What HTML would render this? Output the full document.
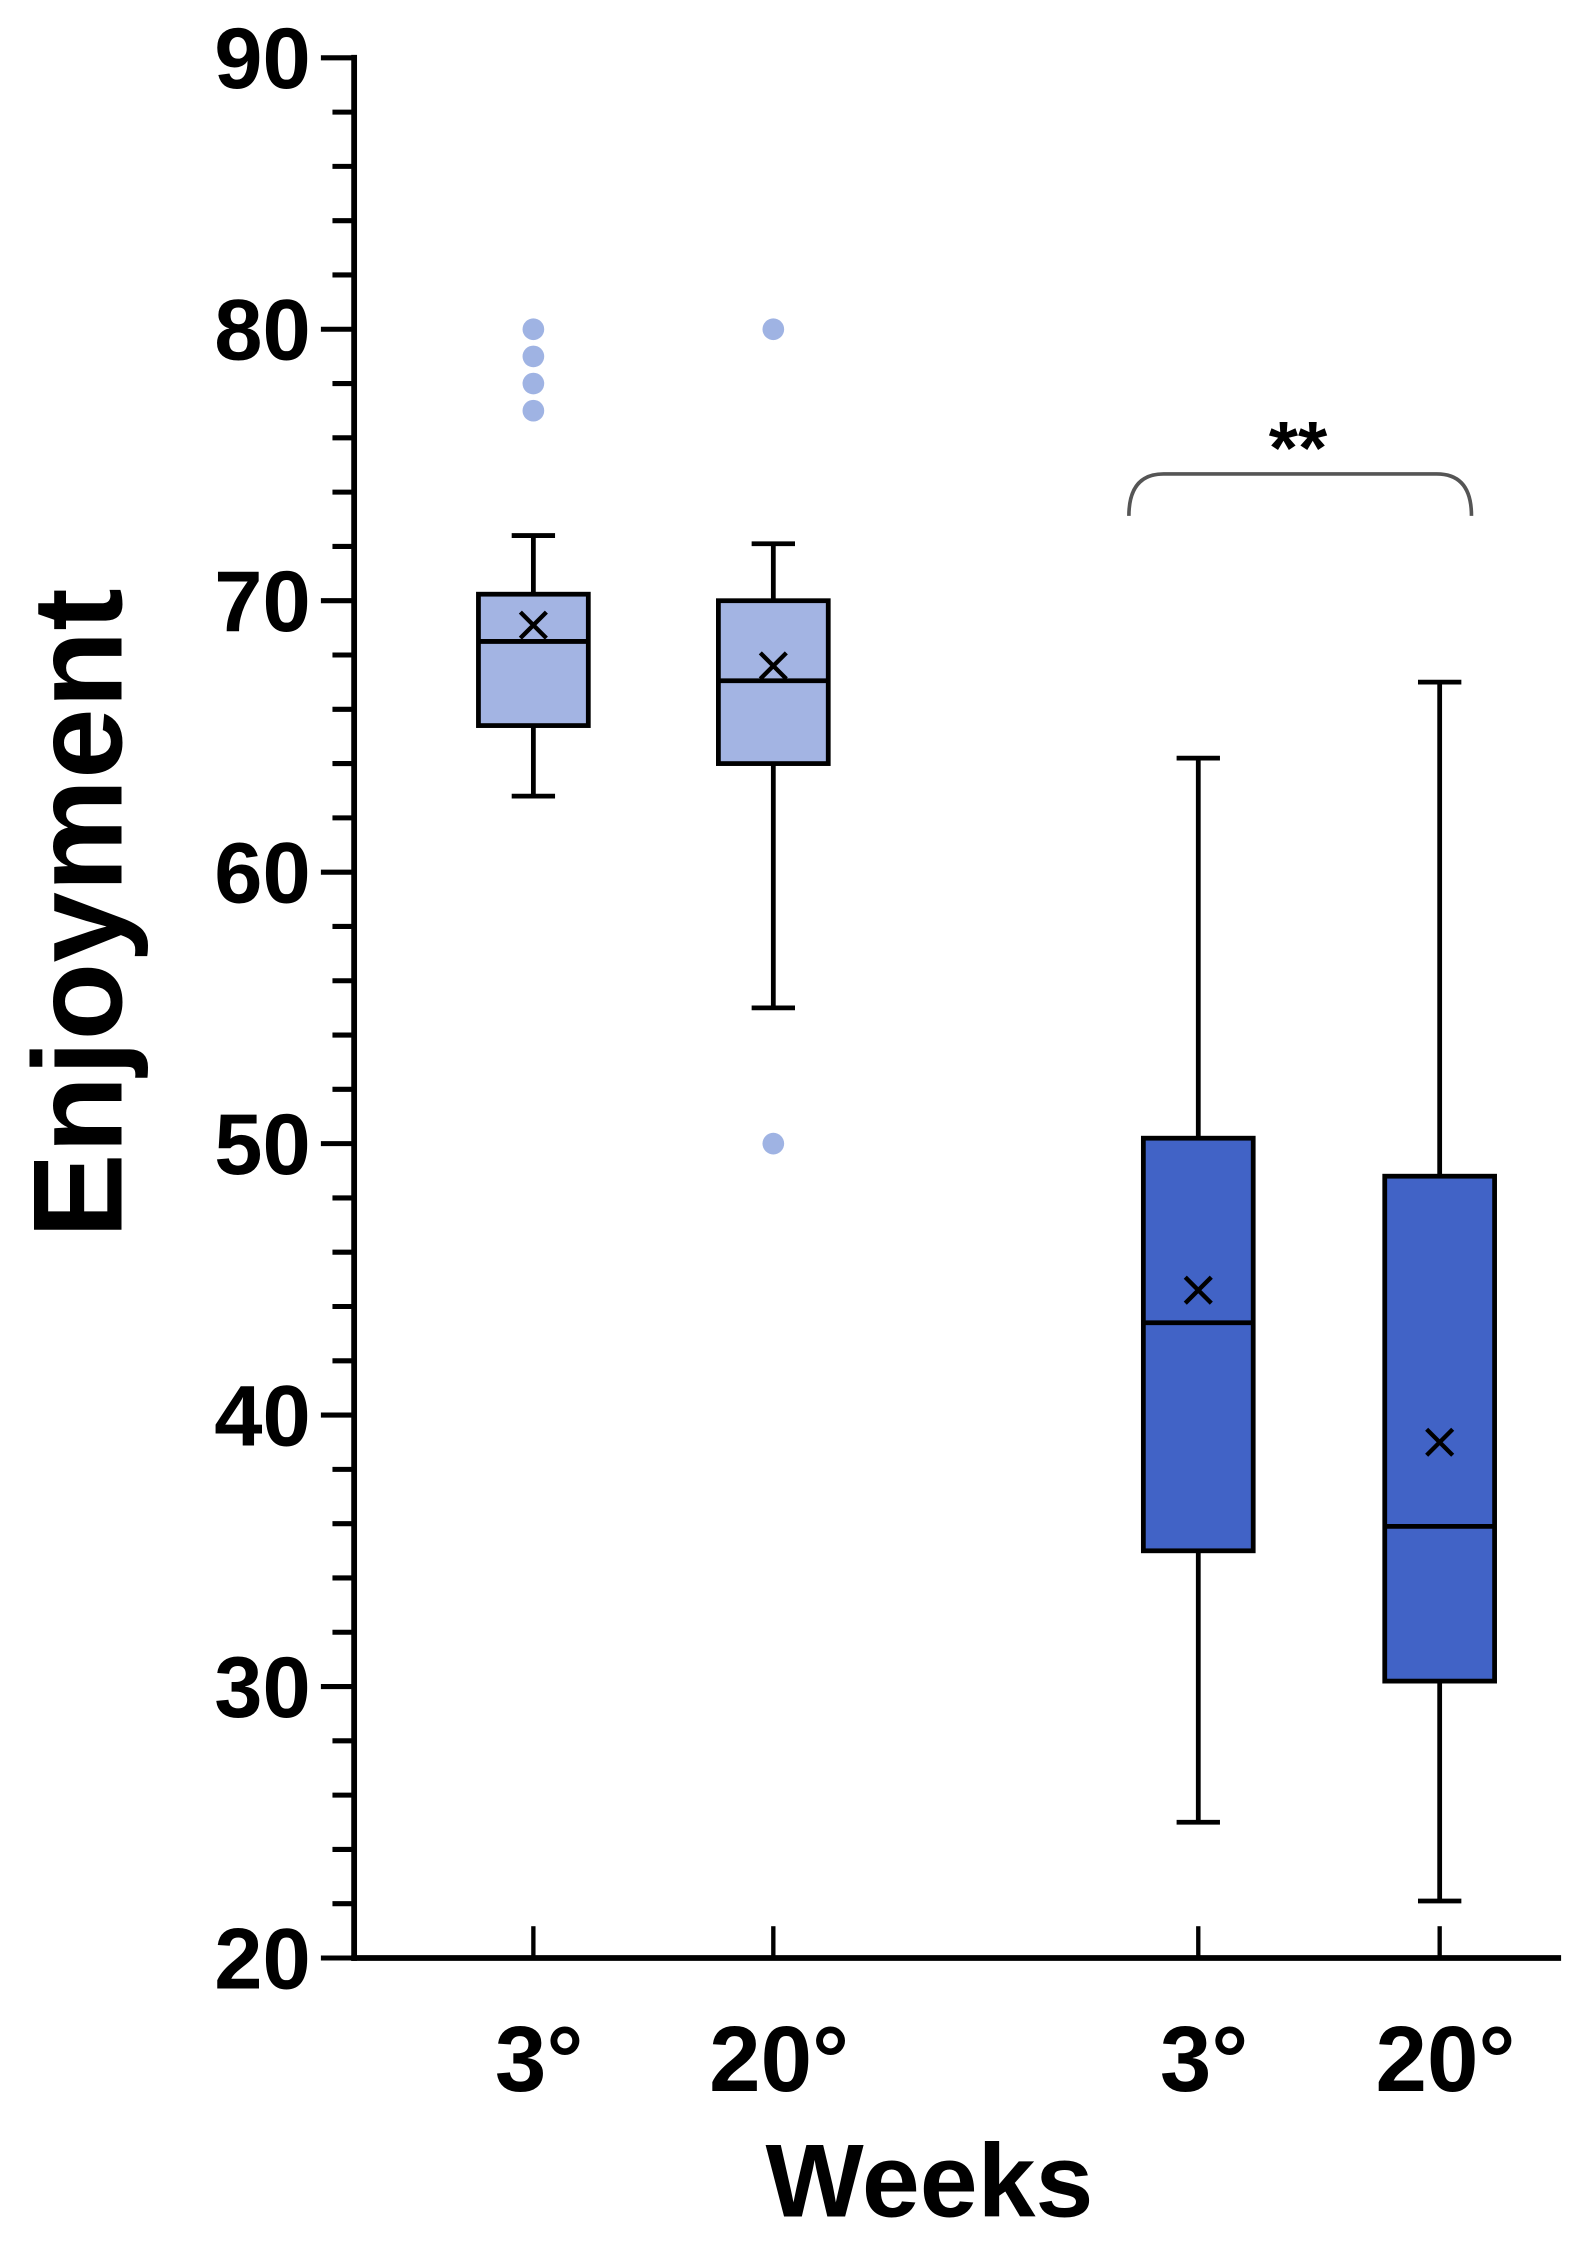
<!DOCTYPE html>
<html><head><meta charset="utf-8"><style>html,body{margin:0;padding:0;background:#fff}svg{display:block}text{font-family:"Liberation Sans",Arial,sans-serif;font-weight:bold;fill:#000}</style></head>
<body>
<svg id="chart" width="1590" height="2260" viewBox="0 0 1100 1564" preserveAspectRatio="none" xmlns="http://www.w3.org/2000/svg">
<g id="axes"></g><g id="boxes"></g>
<text transform="translate(84,632) rotate(-90)" text-anchor="middle" font-size="88">Enjoyment</text>
<text x="643" y="1534" text-anchor="middle" font-size="72">Weeks</text>
<path d="M781,357 Q781,328 805,328 L994,328 Q1018,328 1018,357" fill="none" stroke="#555" stroke-width="2.5"/>
<text x="898" y="328" text-anchor="middle" font-size="52">**</text>
</svg>
<script>
const categories = ["3°","20°","3°","20°"];
const q1 = [65.4, 64.0, 35.0, 30.2];
const medians = [68.5, 67.05, 43.4, 35.9];
const q3 = [70.24, 70.0, 50.2, 48.8];
const whiskLow = [62.8, 55.0, 25.0, 22.1];
const whiskHigh = [72.4, 72.1, 64.2, 67.0];
const means = [69.1, 67.6, 44.6, 39.0];
const outliers = [[80,79,78,77],[80,50],[],[]];
const yTicks = [20,30,40,50,60,70,80,90];
const fills = ["#a3b4e3","#a3b4e3","#4163c6","#4163c6"];
const centers = [369,535,829,996];
const NS="http://www.w3.org/2000/svg";
const y = v => 1355 - (v-20)*(1315/70);
function mk(tag, attrs, parent){const e=document.createElementNS(NS,tag);for(const k in attrs)e.setAttribute(k,attrs[k]);parent.appendChild(e);return e;}
const ax=document.getElementById('axes'), bx=document.getElementById('boxes');
let e=mk('line',{x1:245,y1:38,x2:245,y2:1357,stroke:'#000','stroke-width':4},ax);


e=mk('line',{x1:243,y1:1355,x2:1080,y2:1355,stroke:'#000','stroke-width':4},ax);


for(let v=20; v<=90; v+=2){
  const major=(v%10===0);
  e=mk('line',{x1:major?222:230,y1:y(v),x2:245,y2:y(v),stroke:'#000','stroke-width':3.5},ax);
  
  
}
yTicks.forEach(v=>{
  const t=mk('text',{x:215,y:y(v)+21,'text-anchor':'end','font-size':60},ax);t.textContent=v;
  
  
});
categories.forEach((c,i)=>{
  const cx=centers[i];
  let t=mk('line',{x1:cx,y1:1333,x2:cx,y2:1355,stroke:'#000','stroke-width':3},ax);
  
  
  t=mk('text',{x:cx+4,y:1447,'text-anchor':'middle','font-size':64},ax);t.textContent=c;
  
  
  const g=mk('g',{},bx);
  
  
  const st={stroke:'#000','stroke-width':3.3};
  let l=mk('line',Object.assign({x1:cx,y1:y(whiskHigh[i]),x2:cx,y2:y(q3[i])},st),g);
  
  
  l=mk('line',Object.assign({x1:cx,y1:y(q1[i]),x2:cx,y2:y(whiskLow[i])},st),g);
  
  
  [whiskHigh[i],whiskLow[i]].forEach(v=>{
    const cap=mk('line',Object.assign({x1:cx-15,y1:y(v),x2:cx+15,y2:y(v)},st),g);
    
    
  });
  const r=mk('rect',Object.assign({x:cx-38,y:y(q3[i]),width:76,height:y(q1[i])-y(q3[i]),fill:fills[i]},st),g);
  
  
  l=mk('line',Object.assign({x1:cx-38,y1:y(medians[i]),x2:cx+38,y2:y(medians[i])},st),g);
  
  
  const my=y(means[i]);
  const m=mk('path',{d:`M${cx-9},${my-9}L${cx+9},${my+9}M${cx+9},${my-9}L${cx-9},${my+9}`,stroke:'#000','stroke-width':3},g);
  
  
  outliers[i].forEach(v=>{
    const d=mk('circle',{cx:cx,cy:y(v),r:7.5,fill:'#9fb3e3'},g);
    
    
  });
});
</script>
</body></html>
